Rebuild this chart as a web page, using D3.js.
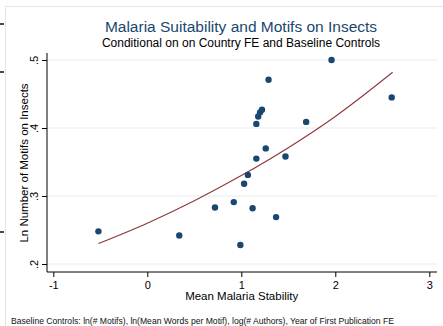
<!DOCTYPE html>
<html>
<head>
  <meta charset="utf-8">
  <style>
    body { margin: 0; background: #fff; }
    text { font-family: "Liberation Sans", Arial, sans-serif; }
  </style>
</head>
<body>
  <svg id="chart"></svg>

  <script src="https://d3js.org/d3.v7.min.js"></script>
  <script>
    // points
    const stability = [-0.52, 0.34, 0.72, 0.92, 0.99, 1.03, 1.07, 1.12, 1.16, 1.16,
                       1.18, 1.20, 1.22, 1.26, 1.29, 1.37, 1.47, 1.69, 1.96, 2.60];
    const lnMotifs = [0.248, 0.242, 0.283, 0.291, 0.228, 0.318, 0.331, 0.282, 0.355, 0.406,
                      0.417, 0.423, 0.427, 0.370, 0.471, 0.269, 0.358, 0.409, 0.500, 0.445];

    // fitted curve, read at a few x positions
    const fitX = [-0.52, 0, 0.5, 1, 1.5, 2, 2.61];
    const fitY = [0.230, 0.260, 0.293, 0.330, 0.371, 0.417, 0.482];

    const xTicks = [-1, 0, 1, 2, 3];
    const yTicks = [0.2, 0.3, 0.4, 0.5];

    const width = 443, height = 326;
    const plot = { left: 47, right: 437, top: 53, bottom: 272 };

    const svg = d3.select('#chart')
      .attr('width', width)
      .attr('height', height);

    svg.append('rect').attr('width', width).attr('height', height).attr('fill', '#fff');

    // outer frame of the graph image
    svg.append('path')
      .attr('d', `M5.5,${height} V6.5 H${width}`)
      .attr('fill', 'none')
      .attr('stroke', '#e2e6e6');
    // little black marks at the very left edge
    svg.selectAll('.edge')
      .data([24, 72, 232])
      .enter()
      .append('line')
      .attr('x1', 0).attr('x2', 4)
      .attr('y1', d => d).attr('y2', d => d)
      .attr('stroke', '#111')
      .attr('stroke-width', 1.5);

    const x = d3.scaleLinear().domain([-1, 3]).range([53.3, 429.3]);
    const y = d3.scaleLinear().domain([0.2, 0.5]).range([264, 60]);

    // grid lines
    svg.selectAll('.grid')
      .data(yTicks)
      .enter()
      .append('line')
      .attr('x1', plot.left).attr('x2', plot.right)
      .attr('y1', d => y(d)).attr('y2', d => y(d))
      .attr('stroke', '#e6eeef')
      .attr('stroke-width', 1.2);

    // y axis
    const yAxis = svg.append('g')
      .attr('transform', `translate(${plot.left},0)`)
      .call(d3.axisLeft(y).tickValues(yTicks).tickSize(5)
        .tickFormat(d => d3.format('.1f')(d).replace(/^0/, '')));
    yAxis.select('.domain').remove();
    yAxis.selectAll('.tick line').attr('stroke', '#000');
    yAxis.selectAll('.tick text')
      .attr('x', 0).attr('dy', 0)
      .attr('transform', 'translate(-9,0) rotate(-90)')
      .attr('text-anchor', 'middle')
      .attr('font-size', 11)
      .attr('fill', '#000');
    svg.append('line')
      .attr('x1', plot.left).attr('x2', plot.left)
      .attr('y1', plot.top).attr('y2', plot.bottom)
      .attr('stroke', '#000');

    // x axis
    const xAxis = svg.append('g')
      .attr('transform', `translate(0,${plot.bottom})`)
      .call(d3.axisBottom(x).tickValues(xTicks).tickSize(5).tickFormat(d => String(d)));
    xAxis.select('.domain').remove();
    xAxis.selectAll('.tick line').attr('stroke', '#000');
    xAxis.selectAll('.tick text')
      .attr('y', 9).attr('dy', '0.71em')
      .attr('font-size', 11)
      .attr('fill', '#000');
    svg.append('line')
      .attr('x1', plot.left).attr('x2', plot.right)
      .attr('y1', plot.bottom).attr('y2', plot.bottom)
      .attr('stroke', '#000');

    // fitted curve
    const line = d3.line()
      .x((d, i) => x(fitX[i]))
      .y(d => y(d))
      .curve(d3.curveMonotoneX);
    svg.append('path')
      .attr('d', line(fitY))
      .attr('fill', 'none')
      .attr('stroke', '#90353b')
      .attr('stroke-width', 1.1);

    // points
    svg.selectAll('.dot')
      .data(stability)
      .enter()
      .append('circle')
      .attr('class', 'dot')
      .attr('cx', d => x(d))
      .attr('cy', (d, i) => y(lnMotifs[i]))
      .attr('r', 3.2)
      .attr('fill', '#1a476f');

    // titles
    svg.append('text')
      .attr('x', 241).attr('y', 32)
      .attr('text-anchor', 'middle')
      .attr('font-size', 15.5)
      .attr('fill', '#1a476f')
      .text('Malaria Suitability and Motifs on Insects');
    svg.append('text')
      .attr('x', 241).attr('y', 47)
      .attr('text-anchor', 'middle')
      .attr('font-size', 12)
      .attr('fill', '#000')
      .text('Conditional on on Country FE and Baseline Controls');

    svg.append('text')
      .attr('transform', 'translate(28,163) rotate(-90)')
      .attr('text-anchor', 'middle')
      .attr('font-size', 11.5)
      .attr('fill', '#000')
      .text('Ln Number of Motifs on Insects');

    svg.append('text')
      .attr('x', 241.7).attr('y', 300)
      .attr('text-anchor', 'middle')
      .attr('font-size', 11.5)
      .attr('fill', '#000')
      .text('Mean Malaria Stability');

    svg.append('text')
      .attr('x', 11).attr('y', 324)
      .attr('font-size', 8.6)
      .attr('fill', '#111')
      .text('Baseline Controls: ln(# Motifs), ln(Mean Words per Motif), log(# Authors), Year of First Publication FE');
  </script>
</body>
</html>
